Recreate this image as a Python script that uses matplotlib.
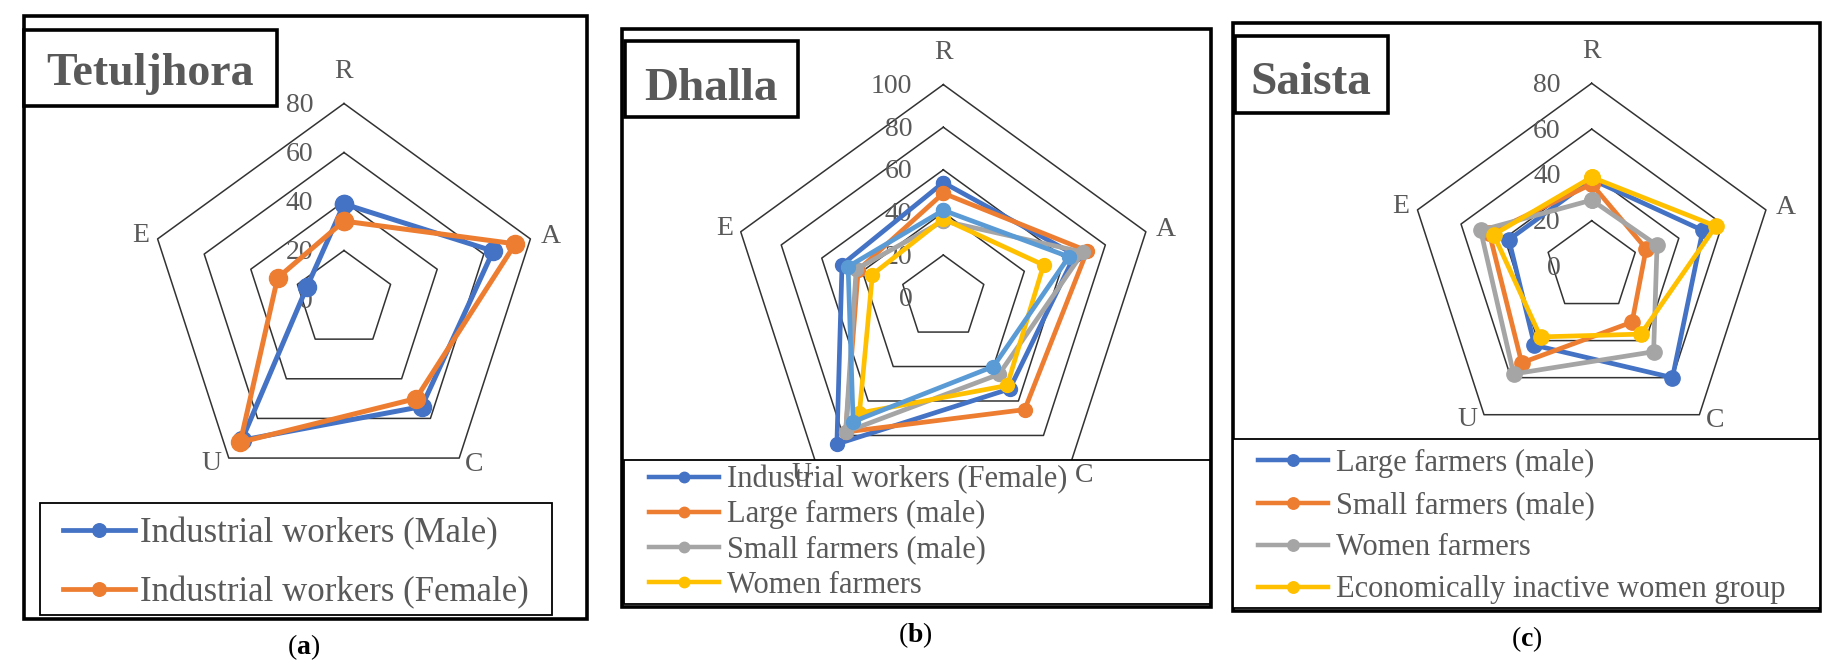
import matplotlib
matplotlib.use('Agg')
import matplotlib.pyplot as plt
import numpy as np
from matplotlib.patches import Rectangle
from matplotlib.lines import Line2D

plt.rcParams['font.family'] = ['Liberation Serif', 'DejaVu Serif']
plt.rcParams['mathtext.fontset'] = 'custom'
plt.rcParams['mathtext.rm'] = 'Liberation Serif'
plt.rcParams['mathtext.bf'] = 'Liberation Serif:bold'

# ---------------- data ----------------
categories = ['R', 'A', 'C', 'U', 'E']

a_title = 'Tetuljhora'
a_labels = ['Industrial workers (Male)', 'Industrial workers (Female)']
a_male = [39, 64, 54, 71, 16]
a_female = [32, 73.5, 50, 72, 28.5]
a_ticks = [0, 20, 40, 60, 80]

b_title = 'Dhalla'
b_labels = ['Industrial workers (Female)', 'Large farmers (male)',
            'Small farmers (male)', 'Women farmers',
            'Economically inactive women group']
b_ind_female = [54, 65, 53, 85, 50]
b_large = [49, 71, 65, 78, 42]
b_small = [36, 69, 44.5, 78, 43]
b_women = [37, 49.5, 51, 67, 35]
b_inactive = [41, 62, 40, 72, 47]
b_ticks = [0, 20, 40, 60, 80, 100]

c_title = 'Saista'
c_labels = ['Large farmers (male)', 'Small farmers (male)',
            'Women farmers', 'Economically inactive women group']
c_large = [38, 51, 60, 42.5, 38]
c_small = [36, 25, 30, 52, 47]
c_women = [29, 30, 46, 58, 51]
c_inactive = [39, 57, 36.5, 38, 45]
c_ticks = [0, 20, 40, 60, 80]

BLUE, ORANGE, GRAY, YELLOW, LBLUE = '#4472C4', '#ED7D31', '#A5A5A5', '#FFC000', '#5B9BD5'
TXT = '#595959'
GRID = '#333333'

W, H = 1835, 668
fig = plt.figure(figsize=(W / 100, H / 100), dpi=100)

def fx(x):
    return x / W

def fy(y):
    return 1 - y / H

def rect(ax, x0, y0, x1, y1, lw, z, fill=False, ec='black'):
    r = Rectangle((fx(x0), fy(y1)), (x1 - x0) / W, (y1 - y0) / H,
                  transform=fig.transFigure, facecolor='white' if fill else 'none',
                  edgecolor=ec, lw=lw, zorder=z, clip_on=False)
    ax.add_patch(r)

theta = np.deg2rad([0, 72, 144, 216, 288])


def panel(cx, cy, ppu, ticks, series, colors, lw, ms, legend_n, leg_cfg,
          box, tbox, title, tbase, tsize, sub, subxy, legbox):
    umax = ticks[-1] * 1.25
    R = umax * ppu
    ax = fig.add_axes([fx(cx - R), fy(cy + R), 2 * R / W, 2 * R / H])
    ax.set_xlim(-umax, umax)
    ax.set_ylim(-umax, umax)
    ax.axis('off')
    # grid pentagons
    for t in ticks[1:]:
        xs = [t * np.sin(a) for a in theta] + [0]
        ys = [t * np.cos(a) for a in theta] + [t]
        ax.plot(xs, ys, color=GRID, lw=1.1, zorder=1, clip_on=False)
    # tick labels
    for t in ticks:
        ax.annotate(str(t), xy=(0, t), xytext=(-31, -2), textcoords='offset pixels',
                    ha='right', va='center', fontsize=20, color=TXT, zorder=2,
                    annotation_clip=False)
    # series
    handles = []
    for (lab, vals), col in zip(series, colors):
        v = np.array(vals + [vals[0]], dtype=float)
        th = np.append(theta, theta[0])
        ax.plot(v * np.sin(th), v * np.cos(th), color=col, lw=lw,
                marker='o', ms=ms, zorder=3, clip_on=False, label=lab)
        handles.append(Line2D([], [], color=col, lw=lw * 0.95, marker='o', ms=ms * 0.75))
    # frames
    rect(ax, *box, lw=2.6, z=4)
    rect(ax, *legbox, lw=1.3, z=5, fill=True)
    rect(ax, *tbox, lw=2.6, z=6, fill=True)
    ax.text(fx((tbox[0] + tbox[2]) / 2), fy(tbase), title, transform=fig.transFigure,
            ha='center', va='baseline', fontsize=tsize, fontweight='bold', color=TXT, zorder=7)
    # legend
    fs, hl, htp, ls, lx, ly = leg_cfg
    labs = [s[0] for s in series]
    leg = ax.legend(handles[:legend_n], labs[:legend_n], loc='upper left',
                    bbox_to_anchor=(fx(lx), fy(ly)), bbox_transform=fig.transFigure,
                    frameon=False, fontsize=fs, handlelength=hl, handletextpad=htp,
                    labelspacing=ls, borderpad=0, borderaxespad=0, labelcolor=TXT,
                    numpoints=1)
    leg.set_zorder(6)
    # category labels
    offs = [(0, 32, 'center'), (10, 2, 'left'), (6, -6, 'left'), (-7, -5, 'right'), (-8, 3, 'right')]
    top = ticks[-1]
    for cat, a, (dx, dy, ha) in zip(categories, theta, offs):
        ax.annotate(cat, xy=(top * np.sin(a), top * np.cos(a)), xytext=(dx, dy),
                    textcoords='offset pixels', ha=ha, va='center', fontsize=20,
                    color=TXT, zorder=8, annotation_clip=False)
    fig.text(fx(subxy[0]), fy(subxy[1]), '(' + r'$\mathbf{' + sub + '}$' + ')',
             ha='center', va='center', fontsize=20, color='black')
    return ax


panel(344, 299.5, 2.45, a_ticks,
      list(zip(a_labels, [a_male, a_female])), [BLUE, ORANGE], 3.6, 13, 2,
      (25, 2.06, 0.17, 0.75, 63, 517),
      (23.7, 16.2, 587, 618.6), (24, 30, 277, 105.6), a_title, 85, 33, 'a', (304, 647),
      (39.5, 502.7, 552, 615))

panel(943.3, 297.6, 2.13, b_ticks,
      list(zip(b_labels, [b_ind_female, b_large, b_small, b_women, b_inactive])),
      [BLUE, ORANGE, GRAY, YELLOW, LBLUE], 3.4, 10, 4,
      (22, 2.29, 0.26, 0.2, 649, 465),
      (622, 29, 1211.3, 607), (624.7, 40.5, 798, 117), b_title, 100, 34, 'b', (915.6, 635),
      (624, 460, 1209.5, 604))

panel(1591.7, 266.5, 2.29, c_ticks,
      list(zip(c_labels, [c_large, c_small, c_women, c_inactive])),
      [BLUE, ORANGE, GRAY, YELLOW], 3.4, 11, 4,
      (22, 2.29, 0.26, 0.43, 1258, 449),
      (1232.8, 23.4, 1820, 611), (1234.7, 36, 1388, 113), c_title, 93.7, 34, 'c', (1526.5, 639),
      (1232.8, 439, 1820, 608))

fig.savefig('out.png', dpi=100)
